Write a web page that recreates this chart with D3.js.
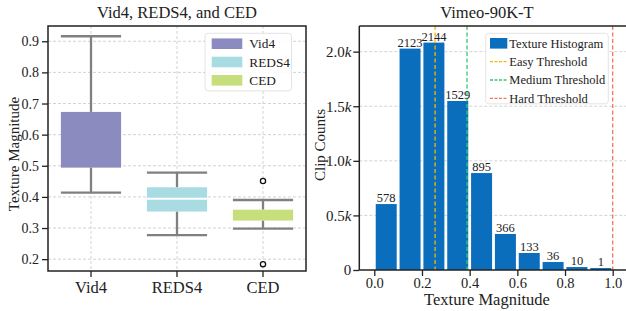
<!DOCTYPE html>
<html>
<head>
<meta charset="utf-8">
<script src="https://cdn.jsdelivr.net/npm/d3@7"></script>
<style>
  body { margin: 0; background: #fff; }
  text { font-family: "Liberation Serif", "Times New Roman", serif; fill: #222; }
</style>
</head>
<body>
<svg width="626" height="311"></svg>
<script>
var svg = d3.select('svg');

// left panel: box stats per dataset
var datasets = ['Vid4', 'REDS4', 'CED'];
var boxColors = ['#8b8bc0', '#a9dbe3', '#c6de7c'];
var whiskerLow = [0.414, 0.277, 0.298];
var q1 = [0.494, 0.353, 0.324];
var medians = [null, 0.394, null];
var q3 = [0.673, 0.431, 0.359];
var whiskerHigh = [0.916, 0.478, 0.390];
var outliers = [[], [], [0.451, 0.184]];
var leftTicks = [0.2, 0.3, 0.4, 0.5, 0.6, 0.7, 0.8, 0.9];

// right panel: histogram
var binStarts = [0.0, 0.1, 0.2, 0.3, 0.4, 0.5, 0.6, 0.7, 0.8, 0.9];
var clipCounts = [578, 2123, 2144, 1529, 895, 366, 133, 36, 10, 1];
var barHeights = [604, 2028, 2083, 1548, 888, 330, 156, 73, 27, 18]; // as drawn
var thresholds = [
  { name: 'Easy Threshold', value: 0.255, color: '#f5b800' },
  { name: 'Medium Threshold', value: 0.389, color: '#2fcc6a' },
  { name: 'Hard Threshold', value: 1.0, color: '#f47560' }
];
var rightYTicks = [0, 500, 1000, 1500, 2000];
var rightXTicks = [0.0, 0.2, 0.4, 0.6, 0.8, 1.0];

var gridColor = '#c8c8c8';

// ---------- LEFT ----------
var L = { left: 48, right: 306, top: 26, bottom: 271 };
var xL = d3.scaleBand().domain(datasets).range([L.left, L.right]);
var yL = d3.scaleLinear().domain([0.162, 0.949]).range([L.bottom, L.top]);
var boxW = xL.bandwidth() * 0.7;

var gl = svg.append('g');

gl.selectAll('.hgrid').data(leftTicks).enter().append('line')
  .attr('x1', L.left).attr('x2', L.right)
  .attr('y1', d => yL(d)).attr('y2', d => yL(d))
  .attr('stroke', gridColor).attr('stroke-width', 0.8).attr('stroke-dasharray', '3,2');
gl.selectAll('.vgrid').data(datasets).enter().append('line')
  .attr('x1', d => xL(d) + xL.bandwidth() / 2).attr('x2', d => xL(d) + xL.bandwidth() / 2)
  .attr('y1', L.top).attr('y2', L.bottom)
  .attr('stroke', gridColor).attr('stroke-width', 0.8).attr('stroke-dasharray', '3,2');

datasets.forEach(function(name, i) {
  var cx = xL(name) + xL.bandwidth() / 2;
  var g = gl.append('g');
  // whiskers
  g.append('line').attr('x1', cx).attr('x2', cx)
    .attr('y1', yL(whiskerHigh[i])).attr('y2', yL(q3[i]))
    .attr('stroke', '#808080').attr('stroke-width', 2.3);
  g.append('line').attr('x1', cx).attr('x2', cx)
    .attr('y1', yL(q1[i])).attr('y2', yL(whiskerLow[i]))
    .attr('stroke', '#808080').attr('stroke-width', 2.3);
  [whiskerHigh[i], whiskerLow[i]].forEach(function(v) {
    g.append('line').attr('x1', cx - boxW / 2).attr('x2', cx + boxW / 2)
      .attr('y1', yL(v)).attr('y2', yL(v))
      .attr('stroke', '#808080').attr('stroke-width', 2.3);
  });
  g.append('rect')
    .attr('x', cx - boxW / 2).attr('width', boxW)
    .attr('y', yL(q3[i])).attr('height', yL(q1[i]) - yL(q3[i]))
    .attr('fill', boxColors[i]);
  if (medians[i] != null) {
    g.append('line').attr('x1', cx - boxW / 2).attr('x2', cx + boxW / 2)
      .attr('y1', yL(medians[i])).attr('y2', yL(medians[i]))
      .attr('stroke', '#fff').attr('stroke-width', 2);
  }
  g.selectAll('circle').data(outliers[i]).enter().append('circle')
    .attr('cx', cx).attr('cy', d => yL(d)).attr('r', 2.6)
    .attr('fill', '#fff').attr('stroke', '#111').attr('stroke-width', 1.3);
});

gl.append('rect').attr('x', L.left).attr('y', L.top)
  .attr('width', L.right - L.left).attr('height', L.bottom - L.top)
  .attr('fill', 'none').attr('stroke', '#222').attr('stroke-width', 1.5);

var yAxisL = gl.append('g').attr('transform', `translate(${L.left},0)`)
  .call(d3.axisLeft(yL).tickValues(leftTicks).tickFormat(d3.format('.1f')).tickSize(6).tickPadding(3));
yAxisL.select('.domain').remove();
yAxisL.selectAll('line').attr('stroke', '#222').attr('stroke-width', 1.3);
yAxisL.selectAll('text').style('font-size', '14px').style('font-family', '"Liberation Serif", serif').attr('fill', '#222');

var xAxisL = gl.append('g').attr('transform', `translate(0,${L.bottom})`)
  .call(d3.axisBottom(xL).tickSize(6).tickPadding(4));
xAxisL.select('.domain').remove();
xAxisL.selectAll('line').attr('stroke', '#222').attr('stroke-width', 1.3);
xAxisL.selectAll('text').style('font-size', '16.5px').style('font-family', '"Liberation Serif", serif').attr('fill', '#222');

gl.append('text').attr('x', 177).attr('y', 18).attr('text-anchor', 'middle')
  .style('font-size', '16.5px').text('Vid4, REDS4, and CED');
gl.append('text').attr('transform', 'translate(19,154) rotate(-90)').attr('text-anchor', 'middle')
  .style('font-size', '15px').text('Texture Magnitude');

// left legend
var lg = gl.append('g');
lg.append('rect').attr('x', 205).attr('y', 33.3).attr('width', 86.5).attr('height', 57.5)
  .attr('rx', 3).attr('fill', 'rgba(255,255,255,0.85)').attr('stroke', '#ddd').attr('stroke-width', 0.8);
datasets.forEach(function(name, i) {
  var cy = 43.7 + i * 18.3;
  lg.append('rect').attr('x', 211.7).attr('y', cy - 5.3).attr('width', 30.6).attr('height', 10.6)
    .attr('fill', boxColors[i]);
  lg.append('text').attr('x', 249.3).attr('y', cy + 4.5).style('font-size', '13.3px').text(name);
});

// ---------- RIGHT ----------
var R = { left: 359.3, right: 640, top: 26, bottom: 270 };
var xR = d3.scaleLinear().domain([0, 1]).range([374.3, 612.7]);
var yR = d3.scaleLinear().domain([0, 2235]).range([R.bottom, R.top]);

var gr = svg.append('g');
gr.selectAll('.hgrid').data(rightYTicks.slice(1)).enter().append('line')
  .attr('x1', R.left).attr('x2', R.right)
  .attr('y1', d => yR(d)).attr('y2', d => yR(d))
  .attr('stroke', gridColor).attr('stroke-width', 0.8).attr('stroke-dasharray', '3,2');

var pad = 0.006;
gr.selectAll('.bar').data(binStarts).enter().append('rect')
  .attr('x', d => xR(d + pad))
  .attr('width', d => xR(d + 0.1 - pad) - xR(d + pad))
  .attr('y', (d, i) => yR(barHeights[i]))
  .attr('height', (d, i) => yR(0) - yR(barHeights[i]))
  .attr('fill', '#0a6ebd');

gr.selectAll('.thr').data(thresholds).enter().append('line')
  .attr('x1', d => xR(d.value)).attr('x2', d => xR(d.value))
  .attr('y1', R.top).attr('y2', R.bottom)
  .attr('stroke', d => d.color).attr('stroke-width', 1.3).attr('stroke-dasharray', '4,2.5');

gr.selectAll('.lbl').data(binStarts).enter().append('text')
  .attr('x', d => xR(d + 0.05))
  .attr('y', (d, i) => yR(barHeights[i]) - 2)
  .attr('text-anchor', 'middle')
  .style('font-size', '12.5px')
  .text((d, i) => clipCounts[i]);

// spines (left, top, bottom; right is outside the picture)
gr.append('line').attr('x1', R.left).attr('x2', R.left).attr('y1', R.top).attr('y2', R.bottom)
  .attr('stroke', '#222').attr('stroke-width', 1.5);
gr.append('line').attr('x1', R.left).attr('x2', R.right).attr('y1', R.top).attr('y2', R.top)
  .attr('stroke', '#222').attr('stroke-width', 1.5);
gr.append('line').attr('x1', R.left).attr('x2', R.right).attr('y1', R.bottom).attr('y2', R.bottom)
  .attr('stroke', '#222').attr('stroke-width', 1.5);

var yAxisR = gr.append('g').attr('transform', `translate(${R.left},0)`)
  .call(d3.axisLeft(yR).tickValues(rightYTicks).tickFormat(() => '').tickSize(6).tickPadding(2));
yAxisR.select('.domain').remove();
yAxisR.selectAll('line').attr('stroke', '#222').attr('stroke-width', 1.3);
yAxisR.selectAll('.tick text').each(function(d) {
  var t = d3.select(this).style('font-size', '15px').style('font-family', '"Liberation Serif", serif').attr('fill', '#222');
  if (d === 0) { t.text('0'); return; }
  t.append('tspan').text((d / 1000).toFixed(1));
  t.append('tspan').style('font-style', 'italic').text('k');
});

var xAxisR = gr.append('g').attr('transform', `translate(0,${R.bottom})`)
  .call(d3.axisBottom(xR).tickValues(rightXTicks).tickFormat(d3.format('.1f')).tickSize(6).tickPadding(2));
xAxisR.select('.domain').remove();
xAxisR.selectAll('line').attr('stroke', '#222').attr('stroke-width', 1.3);
xAxisR.selectAll('text').style('font-size', '14.5px').style('font-family', '"Liberation Serif", serif').attr('fill', '#222');

gr.append('text').attr('x', 487).attr('y', 18).attr('text-anchor', 'middle')
  .style('font-size', '16.5px').text('Vimeo-90K-T');
gr.append('text').attr('x', 487).attr('y', 305).attr('text-anchor', 'middle')
  .style('font-size', '16.5px').text('Texture Magnitude');
gr.append('text').attr('transform', 'translate(325,145) rotate(-90)').attr('text-anchor', 'middle')
  .style('font-size', '15px').text('Clip Counts');

// right legend
var rg = gr.append('g');
rg.append('rect').attr('x', 485.7).attr('y', 33.3).attr('width', 122.6).attr('height', 70.5)
  .attr('rx', 3).attr('fill', 'rgba(255,255,255,0.85)').attr('stroke', '#ddd').attr('stroke-width', 0.8);
rg.append('rect').attr('x', 490).attr('y', 43.3 - 5.3).attr('width', 17.3).attr('height', 10.6).attr('fill', '#0a6ebd');
rg.append('text').attr('x', 509.3).attr('y', 43.3 + 4.3).style('font-size', '12.5px').text('Texture Histogram');
thresholds.forEach(function(t, i) {
  var cy = 61.7 + i * 18.3;
  rg.append('line').attr('x1', 490).attr('x2', 507.3).attr('y1', cy).attr('y2', cy)
    .attr('stroke', t.color).attr('stroke-width', 1.3).attr('stroke-dasharray', '3,1.5');
  rg.append('text').attr('x', 509.3).attr('y', cy + 4.3).style('font-size', '12.5px').text(t.name);
});
</script>
</body>
</html>
